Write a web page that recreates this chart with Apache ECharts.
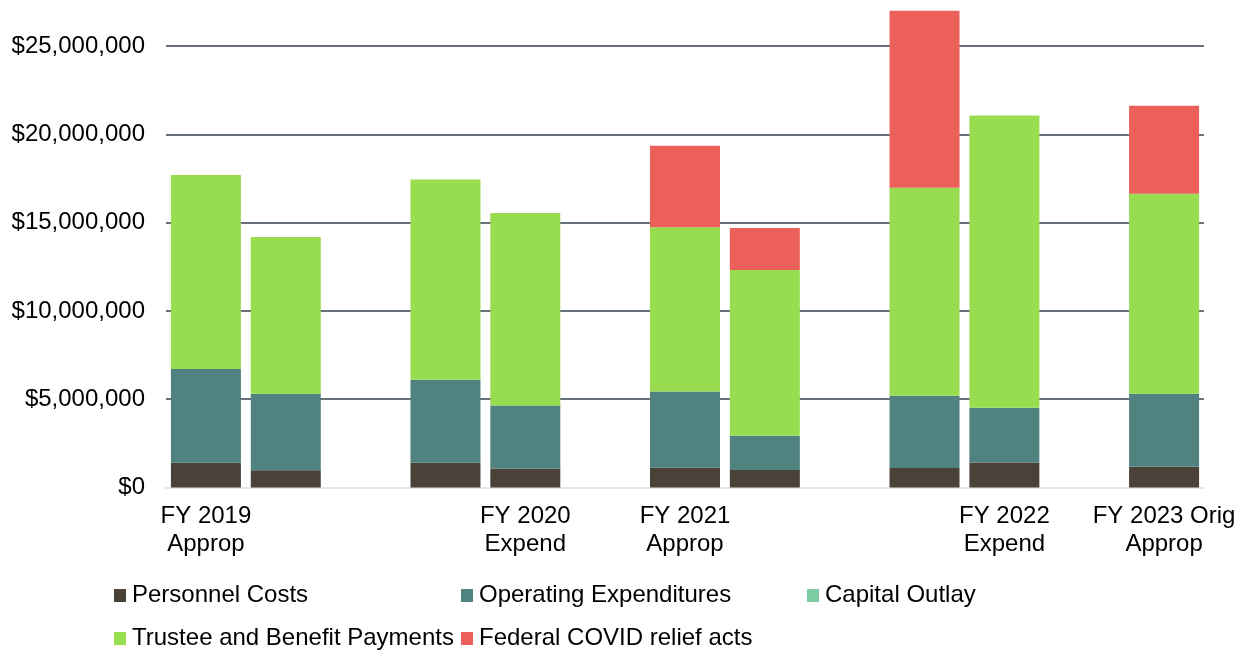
<!DOCTYPE html>
<html>
<head>
<meta charset="utf-8">
<title>Budget by fiscal year</title>
<script src="https://cdn.jsdelivr.net/npm/echarts@6/dist/echarts.min.js"></script>
<style>
    html, body {margin: 0; padding: 0; background: #fff;}
    #main {width: 1234px; height: 651px;}
</style>
</head>
<body>
<div id="main"></div>
<script>
// blank slots are the gaps between fiscal years
let categories = ['FY 2019\nApprop', 'FY 2019\nExpend', ' ',
    'FY 2020\nApprop', 'FY 2020\nExpend', '  ',
    'FY 2021\nApprop', 'FY 2021\nExpend', '   ',
    'FY 2022\nApprop', 'FY 2022\nExpend', '    ',
    'FY 2023 Orig\nApprop'];

let personnel = [1400000, 970000, '-', 1400000, 1070000, '-', 1120000, 990000, '-', 1100000, 1410000, '-', 1180000];
let operating = [5310000, 4340000, '-', 4700000, 3570000, '-', 4310000, 1940000, '-', 4100000, 3110000, '-', 4130000];
let capital = [0, 0, '-', 0, 0, '-', 0, 0, '-', 0, 0, '-', 0];
let trustee = [10990000, 8880000, '-', 11340000, 10900000, '-', 9310000, 9380000, '-', 11770000, 16550000, '-', 11320000];
let covid = [0, 0, '-', 0, 0, '-', 4610000, 2380000, '-', 10030000, 0, '-', 4980000];

let seriesNames = ['Personnel Costs', 'Operating Expenditures', 'Capital Outlay',
    'Trustee and Benefit Payments', 'Federal COVID relief acts'];
let seriesColors = ['#4a4139', '#508280', '#7dcba0', '#98dc50', '#eb6058'];
let seriesData = [personnel, operating, capital, trustee, covid];

let yTicks = [0, 5000000, 10000000, 15000000, 20000000, 25000000];

let font = 'Liberation Sans, Arial, sans-serif';

//legend laid out in two rows like the original
let legendPos = [[114, 583.5], [461, 583.5], [807, 583.5], [114, 626.5], [461, 626.5]];
let legends = [];
seriesNames.forEach(function (n, i) {
    legends.push({
        data: [n],
        left: legendPos[i][0],
        top: legendPos[i][1],
        padding: 0,
        icon: 'rect',
        itemWidth: 12,
        itemHeight: 13,
        itemStyle: {borderWidth: 0},
        textStyle: {fontSize: 24, lineHeight: 24, color: '#000', fontFamily: font, padding: [0, 0, 0, 1]}
    });
});

let series = [];
seriesNames.forEach(function (n, i) {
    series.push({
        name: n,
        type: 'bar',
        stack: 'total',
        barWidth: 70,
        clip: false,
        itemStyle: {color: seriesColors[i]},
        data: seriesData[i]
    });
});

let chart = echarts.init(document.getElementById('main'), null, {renderer: 'canvas'});
chart.setOption({
    animation: false,
    textStyle: {fontFamily: font},
    grid: {left: 166, right: 30, top: 46, bottom: 163.5, containLabel: false, outerBoundsMode: 'none'},
    legend: legends,
    xAxis: {
        type: 'category',
        data: categories,
        axisTick: {show: false},
        axisLine: {lineStyle: {color: '#d9dee3', width: 1.5}},
        axisLabel: {
            interval: 1,
            margin: 15,
            fontSize: 24,
            lineHeight: 28,
            color: '#000',
            fontFamily: font
        }
    },
    yAxis: {
        type: 'value',
        min: yTicks[0],
        max: yTicks[yTicks.length - 1],
        interval: 5000000,
        axisLine: {show: false},
        axisTick: {show: false},
        splitLine: {showMinLine: false, lineStyle: {color: '#36414c', width: 1.6}},
        axisLabel: {
            margin: 21,
            fontSize: 24,
            color: '#000',
            fontFamily: font,
            formatter: function (v) {
                return '$' + v.toLocaleString('en-US');
            }
        }
    },
    series: series
});
</script>
</body>
</html>
